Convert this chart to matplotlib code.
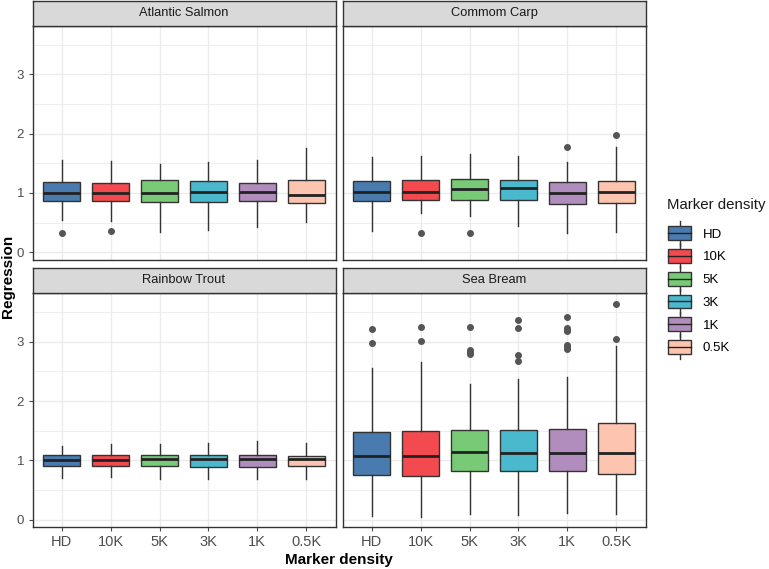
import matplotlib
matplotlib.use("Agg")
import matplotlib.pyplot as plt
from matplotlib.patches import Rectangle
from matplotlib.lines import Line2D
from matplotlib.legend_handler import HandlerBase

plt.rcParams['font.family'] = ['Liberation Sans', 'DejaVu Sans']

categories = ["HD", "10K", "5K", "3K", "1K", "0.5K"]
species = ["Atlantic Salmon", "Commom Carp", "Rainbow Trout", "Sea Bream"]
colors = ["#4A7BAE", "#F24A4F", "#79CA76", "#4AB8CD", "#B08DBC", "#FDC5AF"]

# [whisker low, q1, median, q3, whisker high] per marker density
salmon_stats = [[0.55, 0.86, 1.00, 1.18, 1.56], [0.53, 0.86, 1.00, 1.16, 1.54],
                [0.35, 0.84, 1.00, 1.22, 1.49], [0.37, 0.84, 1.01, 1.20, 1.52],
                [0.43, 0.86, 1.02, 1.16, 1.56], [0.51, 0.83, 0.97, 1.22, 1.75]]
salmon_fliers = [[0.33], [0.36], [], [], [], []]

carp_stats = [[0.36, 0.86, 1.02, 1.20, 1.61], [0.66, 0.88, 1.02, 1.22, 1.63],
              [0.62, 0.89, 1.06, 1.23, 1.65], [0.45, 0.89, 1.09, 1.22, 1.63],
              [0.33, 0.81, 1.00, 1.18, 1.52], [0.34, 0.83, 1.02, 1.20, 1.77]]
carp_fliers = [[], [0.33], [0.33], [], [1.78], [1.97]]

trout_stats = [[0.71, 0.91, 1.00, 1.09, 1.25], [0.73, 0.91, 1.00, 1.09, 1.27],
               [0.69, 0.91, 1.02, 1.09, 1.27], [0.69, 0.89, 1.02, 1.09, 1.29],
               [0.69, 0.89, 1.02, 1.09, 1.33], [0.69, 0.91, 1.02, 1.07, 1.29]]
trout_fliers = [[], [], [], [], [], []]

bream_stats = [[0.07, 0.75, 1.08, 1.48, 2.56], [0.05, 0.74, 1.08, 1.50, 2.65],
               [0.10, 0.82, 1.15, 1.51, 2.29], [0.08, 0.82, 1.13, 1.51, 2.37],
               [0.12, 0.82, 1.12, 1.53, 2.41], [0.10, 0.78, 1.12, 1.63, 2.92]]
bream_fliers = [[3.22, 2.97], [3.24, 3.02], [3.25, 2.86, 2.83, 2.79],
                [3.36, 3.23, 2.78, 2.68],
                [3.42, 3.23, 3.20, 3.18, 2.95, 2.91, 2.88], [3.64, 3.05]]

all_stats = [salmon_stats, carp_stats, trout_stats, bream_stats]
all_fliers = [salmon_fliers, carp_fliers, trout_fliers, bream_fliers]

W, H = 769, 569
fig = plt.figure(figsize=(W / 100, H / 100), dpi=100)

# panel boxes in pixels: (left, top, right, bottom)
panels = [(32.5, 25.5, 335.5, 259.5), (342.5, 25.5, 645.5, 259.5),
          (32.5, 293, 335.5, 527), (342.5, 293, 645.5, 527)]
strip_h = 25
edge = "#333333"
tick_col = "#4D4D4D"


def add_px_axes(l, t, r, b):
    return fig.add_axes([l / W, 1 - b / H, (r - l) / W, (b - t) / H])


for i, (name, stats, fliers) in enumerate(zip(species, all_stats, all_fliers)):
    l, t, r, b = panels[i]
    ax = add_px_axes(l, t, r, b)

    bxp_stats = []
    for j, s in enumerate(stats):
        bxp_stats.append(dict(whislo=s[0], q1=s[1], med=s[2], q3=s[3],
                              whishi=s[4], fliers=fliers[j]))
    res = ax.bxp(bxp_stats, positions=range(1, 7), widths=0.75,
                 patch_artist=True, showcaps=False, manage_ticks=False,
                 boxprops=dict(edgecolor=edge, linewidth=1.0),
                 whiskerprops=dict(color=edge, linewidth=1.0),
                 medianprops=dict(color='#222222', linewidth=2.0),
                 flierprops=dict(marker='o', markerfacecolor='#555555',
                                 markeredgecolor='#555555', markersize=4))
    for patch, c in zip(res['boxes'], colors):
        patch.set_facecolor(c)

    ax.set_xlim(0.4, 6.6)
    ax.set_ylim(-0.12, 3.82)
    ax.set_xticks(range(1, 7))
    ax.set_yticks([0, 1, 2, 3])
    ax.set_yticks([0.5, 1.5, 2.5, 3.5], minor=True)
    ax.grid(True, which='major', color='#EBEBEB', lw=1.0, zorder=0)
    ax.grid(True, which='minor', axis='y', color='#EBEBEB', lw=0.6, zorder=0)
    ax.set_axisbelow(True)
    for sp in ax.spines.values():
        sp.set_color(edge)
        sp.set_linewidth(1.0)
    ax.tick_params(axis='both', which='major', length=3, width=0.8,
                   color=tick_col, labelcolor=tick_col, labelsize=9.5, pad=3)
    ax.tick_params(axis='both', which='minor', length=0)

    if i % 2 == 0:
        ax.set_yticklabels(['0', '1', '2', '3'])
    else:
        ax.tick_params(axis='y', labelleft=False, length=0)
    if i >= 2:
        ax.set_xticklabels(categories, fontsize=10.5)
    else:
        ax.tick_params(axis='x', labelbottom=False, length=0)

    # facet strip
    sax = add_px_axes(l, t - strip_h, r, t)
    sax.set_xticks([])
    sax.set_yticks([])
    sax.set_facecolor('#D9D9D9')
    for sp in sax.spines.values():
        sp.set_color(edge)
        sp.set_linewidth(1.0)
    sax.text(0.5, 0.5, name, ha='center', va='center', fontsize=9.3,
             color='#1A1A1A', transform=sax.transAxes)

fig.text(8.5 / W, 1 - 276 / H, "Regression", rotation=90, ha='center',
         va='center', fontsize=11, fontweight='bold')
fig.text(339 / W, 1 - 560 / H, "Marker density", ha='center', va='center',
         fontsize=11, fontweight='bold')


class BoxKey(HandlerBase):
    def create_artists(self, legend, orig_handle, xdescent, ydescent,
                       width, height, fontsize, trans):
        c = orig_handle.get_facecolor()
        cx = width / 2 - xdescent
        cy = height / 2 - ydescent
        bw, bh = 17, 10
        rect = Rectangle((cx - bw / 2, cy - bh / 2), bw, bh, facecolor=c,
                         edgecolor=edge, lw=1.0, transform=trans)
        med = Line2D([cx - bw / 2, cx + bw / 2], [cy, cy], color='#222222',
                     lw=1.0, transform=trans)
        w1 = Line2D([cx, cx], [cy + bh / 2, cy + bh / 2 + 4], color=edge,
                    lw=1.0, transform=trans)
        w2 = Line2D([cx, cx], [cy - bh / 2, cy - bh / 2 - 4], color=edge,
                    lw=1.0, transform=trans)
        return [w1, w2, rect, med]


fig.text(667 / W, 1 - 205 / H, "Marker density", ha='left', va='center',
         fontsize=10.8, color='#1A1A1A')
handles = [Rectangle((0, 0), 1, 1, facecolor=c) for c in colors]
leg = fig.legend(handles, categories, handler_map={Rectangle: BoxKey()},
                 loc='upper left', bbox_to_anchor=(667 / W, 1 - 225 / H),
                 frameon=False, fontsize=9.5, handlelength=1.9,
                 handleheight=1.55, labelspacing=0.47, handletextpad=0.8,
                 borderpad=0, borderaxespad=0)

fig.savefig("out.png", dpi=100)
